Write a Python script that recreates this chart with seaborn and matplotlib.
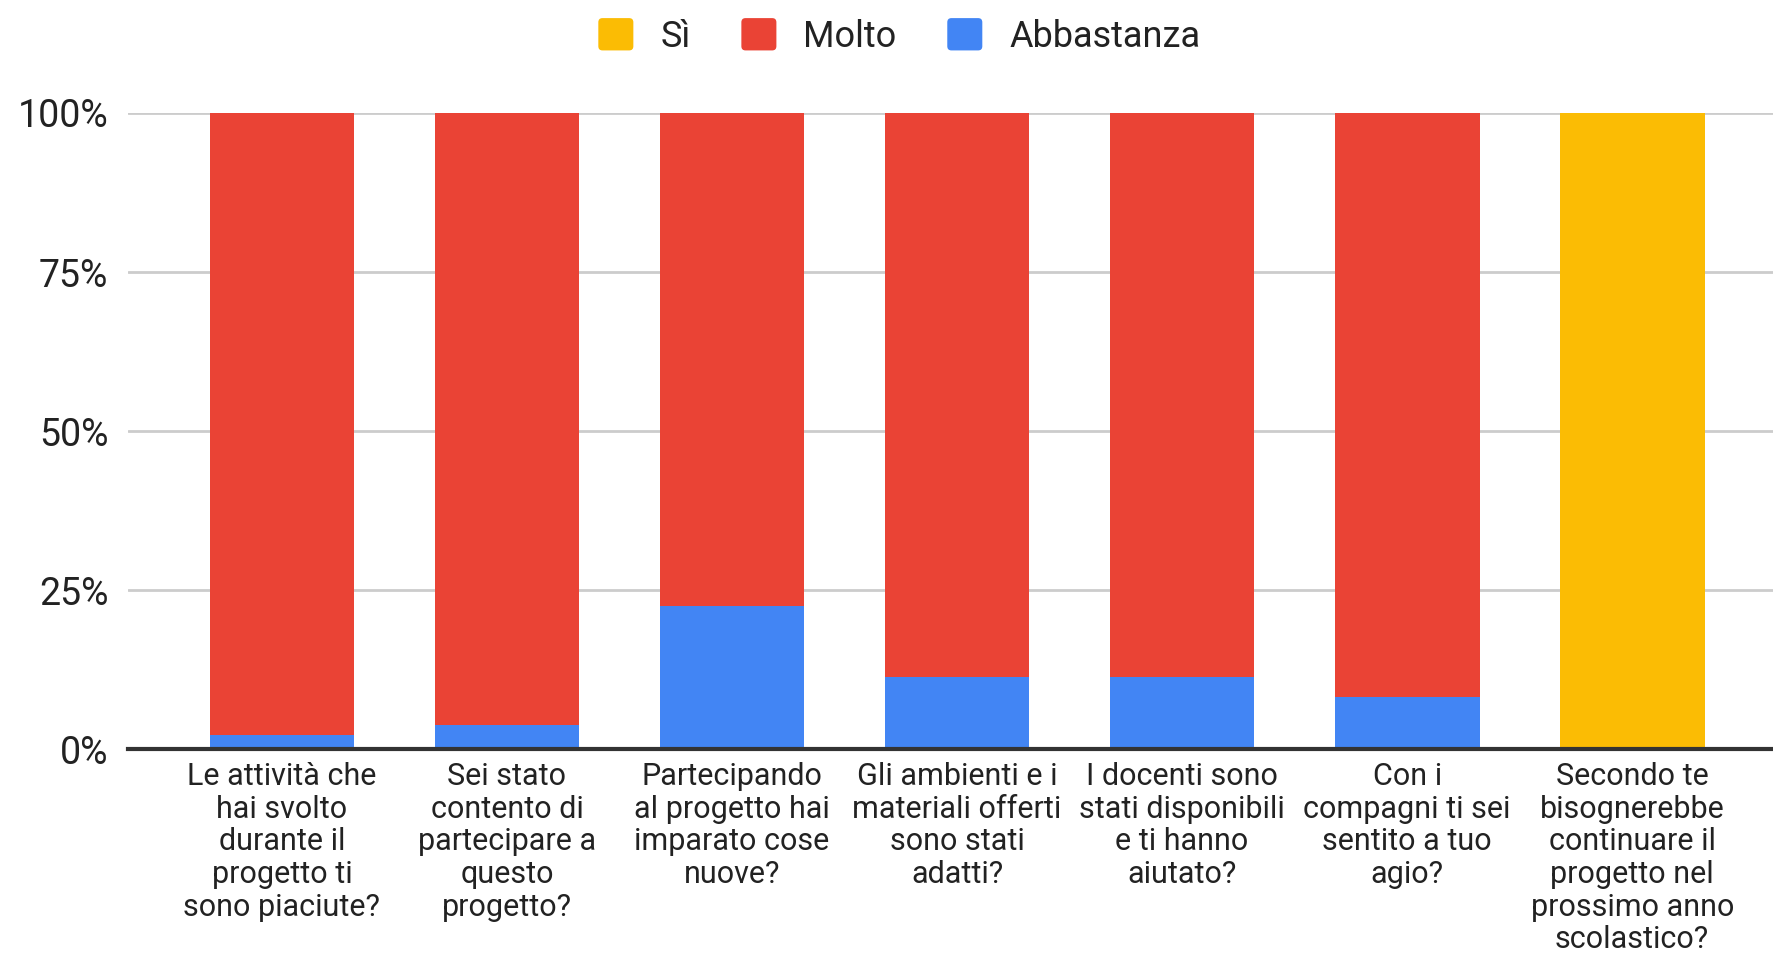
import pandas as pd
import matplotlib
matplotlib.use("Agg")
import matplotlib.pyplot as plt
from matplotlib.patches import Patch, FancyBboxPatch
from matplotlib.legend_handler import HandlerPatch
from matplotlib.ticker import FuncFormatter
import seaborn as sns

# Survey questions (x axis labels, wrapped as in the original chart)
questions = [
    "Le attività che\nhai svolto\ndurante il\nprogetto ti\nsono piaciute?",
    "Sei stato\ncontento di\npartecipare a\nquesto\nprogetto?",
    "Partecipando\nal progetto hai\nimparato cose\nnuove?",
    "Gli ambienti e i\nmateriali offerti\nsono stati\nadatti?",
    "I docenti sono\nstati disponibili\ne ti hanno\naiutato?",
    "Con i\ncompagni ti sei\nsentito a tuo\nagio?",
    "Secondo te\nbisognerebbe\ncontinuare il\nprogetto nel\nprossimo anno\nscolastico?",
]

# Share of answers (fraction of 1)
si = [0.0, 0.0, 0.0, 0.0, 0.0, 0.0, 1.0]
molto = [0.978, 0.962, 0.774, 0.886, 0.886, 0.917, 0.0]
abbastanza = [0.022, 0.038, 0.226, 0.114, 0.114, 0.083, 0.0]

series_names = ["Sì", "Molto", "Abbastanza"]
colors = {"Sì": "#FBBC04", "Molto": "#EA4335", "Abbastanza": "#4285F4"}

df = pd.DataFrame({"domanda": questions, "Sì": si, "Molto": molto, "Abbastanza": abbastanza})
# cumulative heights for stacking (drawn back to front)
df["top_si"] = df["Sì"] + df["Molto"] + df["Abbastanza"]
df["top_molto"] = df["Molto"] + df["Abbastanza"]
df["top_abb"] = df["Abbastanza"]


class RoundedHandler(HandlerPatch):
    # legend swatch with rounded corners, like Google Charts
    def create_artists(self, legend, orig_handle, xdescent, ydescent, width, height, fontsize, trans):
        r = 3
        p = FancyBboxPatch((-xdescent + r, -ydescent + r), width - 2 * r, height - 2 * r,
                           boxstyle=f"round,pad={r}", facecolor=orig_handle.get_facecolor(),
                           edgecolor="none", transform=trans)
        return [p]


sns.set_style("white")
plt.rcParams["font.family"] = ["Roboto", "DejaVu Sans"]

fig = plt.figure(figsize=(17.74, 9.57), dpi=100)
ax = fig.add_axes([0.072, 0.217, 0.928, 0.665])

for col, name in [("top_si", "Sì"), ("top_molto", "Molto"), ("top_abb", "Abbastanza")]:
    sns.barplot(data=df, x="domanda", y=col, order=questions, color=colors[name],
                width=0.643, saturation=1, linewidth=0, ax=ax, zorder=3)

ax.set_xlim(-0.685, 6.63)
ax.set_ylim(0, 1.0)
ax.set_yticks([0, 0.25, 0.5, 0.75, 1.0])
ax.yaxis.set_major_formatter(FuncFormatter(lambda v, _: f"{v * 100:.0f}%"))
ax.grid(axis="y", color="#cccccc", linewidth=2, zorder=0)
ax.set_axisbelow(True)
for s in ["left", "right", "top"]:
    ax.spines[s].set_visible(False)
ax.spines["bottom"].set_color("#333333")
ax.spines["bottom"].set_linewidth(3)
ax.spines["bottom"].set_zorder(5)
ax.set_xlabel("")
ax.set_ylabel("")
ax.tick_params(axis="y", length=0, pad=14, labelsize=27, labelcolor="#222222")
ax.tick_params(axis="x", length=0, pad=9, labelsize=22, labelcolor="#222222")
for lbl in ax.get_xticklabels():
    lbl.set_linespacing(1.16)
    lbl.set_verticalalignment("top")

handles = [Patch(facecolor=colors[n], edgecolor="none", label=n) for n in series_names]
fig.legend(handles=handles, loc="center", bbox_to_anchor=(0.507, 0.962), ncol=3,
           frameon=False, fontsize=26, handlelength=0.97, handleheight=1.0,
           handletextpad=0.75, columnspacing=1.4, labelcolor="#222222",
           handler_map={Patch: RoundedHandler()})

fig.savefig("out.png", dpi=100, facecolor="white")
